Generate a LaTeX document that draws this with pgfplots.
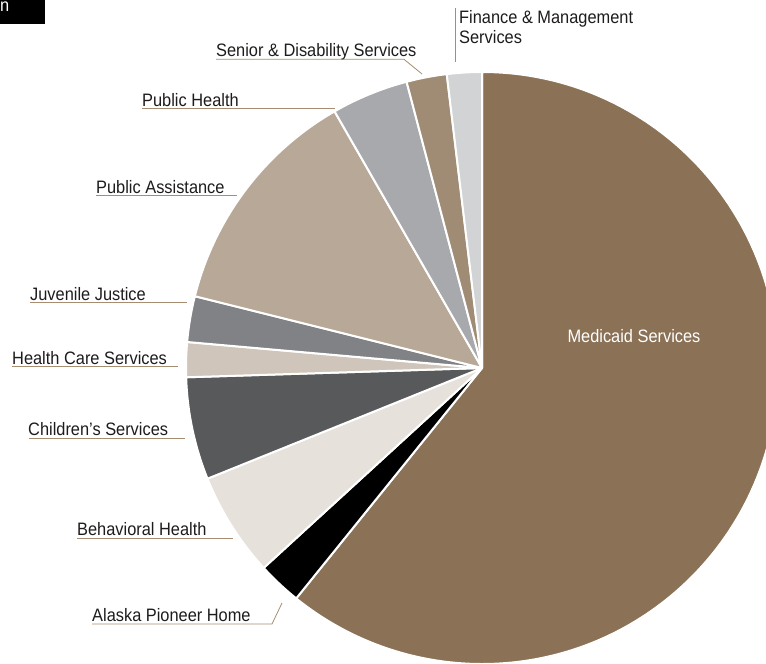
\documentclass[border=0pt]{standalone}
\usepackage{pgfplots}
\pgfplotsset{compat=1.18}
\usepackage{pgfplotstable}
\usepackage{fontspec}
\setmainfont[FakeStretch=0.91]{Liberation Sans}

% slice colours, clockwise from 12 o'clock
\definecolor{c0}{RGB}{139,113,85}   % Medicaid Services
\definecolor{c1}{RGB}{0,0,0}        % Alaska Pioneer Home
\definecolor{c2}{RGB}{230,225,219}  % Behavioral Health
\definecolor{c3}{RGB}{88,89,91}     % Children's Services
\definecolor{c4}{RGB}{208,197,186}  % Health Care Services
\definecolor{c5}{RGB}{128,130,133}  % Juvenile Justice
\definecolor{c6}{RGB}{184,168,152}  % Public Assistance
\definecolor{c7}{RGB}{167,169,172}  % Public Health
\definecolor{c8}{RGB}{160,140,116}  % Senior & Disability Services
\definecolor{c9}{RGB}{209,211,212}  % Finance & Management Services
\definecolor{leader}{RGB}{166,140,112}
\definecolor{ink}{RGB}{30,27,28}

% share of the budget, in percent
\pgfplotstableread{
pct
60.8
2.4
5.7
5.6
1.9
2.5
12.8
4.2
2.2
1.9
}\budget

\begin{document}
\begin{tikzpicture}[
  lbl/.style={anchor=base west, inner sep=0pt, text=ink, font=\fontsize{18bp}{20bp}\selectfont},
  ln/.style={draw=leader, line width=0.8bp}]
\begin{axis}[
    hide axis, scale only axis,
    width=766bp, height=664bp,
    xmin=0, xmax=766, ymin=0, ymax=664,
    y dir=reverse, clip=true]
  \def\startangle{90}
  \pgfplotsforeachungrouped \i in {0,...,9}{%
    \pgfplotstablegetelem{\i}{pct}\of\budget
    \pgfmathsetmacro\sweep{3.6*\pgfplotsretval}
    \pgfmathsetmacro\endangle{\startangle-\sweep}
    \edef\slice{\noexpand\fill[c\i, draw=white, line width=2bp, line join=round]
      (axis cs:482,368) -- ++(\startangle:296bp)
      arc[start angle=\startangle, end angle=\endangle, radius=296bp] -- cycle;}
    \slice
    \global\let\startangle\endangle
  }

  % cropped title box
  \fill[black] (axis cs:0,0) rectangle (axis cs:45,24);
  \node[lbl, text=white] at (axis cs:0,12) {n};

  \node[lbl, text=white, anchor=base] at (axis cs:634,342) {Medicaid Services};

  \node[lbl] at (axis cs:459,24) {Finance \& Management};
  \node[lbl] at (axis cs:459,44) {Services};
  \draw[ln] (axis cs:455.7,8) -- (axis cs:455.7,62);

  \node[lbl] at (axis cs:216,56.5) {Senior \& Disability Services};
  \draw[ln] (axis cs:216,59.3) -- (axis cs:404,59.3) -- (axis cs:422,74);

  \node[lbl] at (axis cs:142,106) {Public Health};
  \draw[ln] (axis cs:142,108.7) -- (axis cs:335,108.7);

  \node[lbl] at (axis cs:96,193) {Public Assistance};
  \draw[ln] (axis cs:96,195.5) -- (axis cs:237,195.5);

  \node[lbl] at (axis cs:30,300) {Juvenile Justice};
  \draw[ln] (axis cs:30,302.3) -- (axis cs:187,302.3);

  \node[lbl] at (axis cs:12,364) {Health Care Services};
  \draw[ln] (axis cs:12,366.7) -- (axis cs:178,366.7);

  \node[lbl] at (axis cs:28,435.5) {Children’s Services};
  \draw[ln] (axis cs:29,438.3) -- (axis cs:185,438.3);

  \node[lbl] at (axis cs:77,535.5) {Behavioral Health};
  \draw[ln] (axis cs:77,538.3) -- (axis cs:233,538.3);

  \node[lbl] at (axis cs:92,621) {Alaska Pioneer Home};
  \draw[ln] (axis cs:92,624) -- (axis cs:272,624) -- (axis cs:282,603);
\end{axis}
\pgfresetboundingbox
\useasboundingbox (0,0) rectangle (766bp,664bp);
\end{tikzpicture}
\end{document}
